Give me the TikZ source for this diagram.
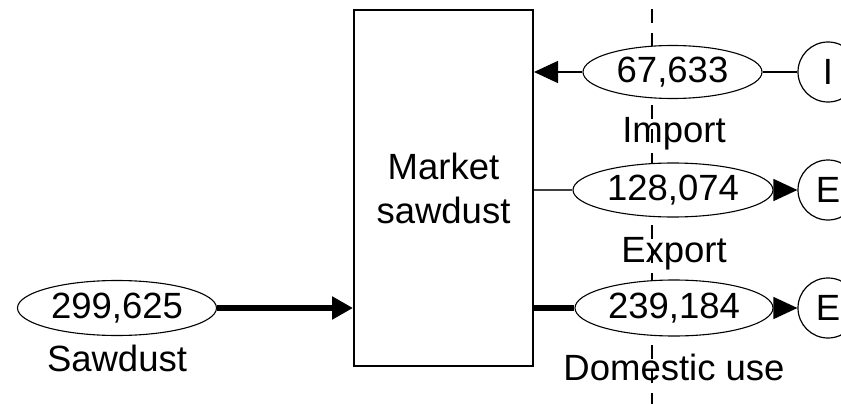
\documentclass[tikz,border=0pt]{standalone}
\usepackage{fontspec}
\setmainfont{Liberation Sans}
\usetikzlibrary{arrows.meta,shapes.geometric}
\begin{document}
\begin{tikzpicture}[x=1pt,y=-1pt,
  every node/.style={font=\fontsize{36.5}{44}\selectfont},
  flowval/.style={ellipse,draw,fill=white,line width=1.1pt,inner sep=0pt},
  endpt/.style={circle,draw,fill=white,line width=1.2pt,minimum size=60pt,inner sep=0pt},
  lbl/.style={anchor=base,inner sep=0pt},
  thinln/.style={line width=1.5pt},
  thickln/.style={line width=6pt},
  tip/.style={-{Triangle[length=24pt,width=22pt]}},
  bigtip/.style={-{Triangle[length=21pt,width=22pt]}}
]
\useasboundingbox (0,0) rectangle (841,404);
% market box
\node[draw,line width=2pt,minimum width=179pt,minimum height=356pt,align=center,inner sep=0pt] (mkt) at (443.5,188) {Market\\sawdust};
% labels (under the dashed border line)
\node[lbl] (limp) at (674,142) {Import};
\node[lbl] (lexp) at (674,262) {Export};
\node[lbl] (ldom) at (674,380) {Domestic use};
\node[lbl] (lsaw) at (117,371) {Sawdust};
% dashed system border
\coordinate (vtop) at (652,0);
\coordinate (vbot) at (652,404);
\draw[line width=1.2pt,dash pattern=on 14pt off 10pt,dash phase=15pt] (vtop) -- (vbot);
% flow values
\node[flowval,minimum width=179pt,minimum height=53pt] (vimp) at (672.5,72) {67,633};
\node[flowval,minimum width=200pt,minimum height=54pt] (vexp) at (673,190) {128,074};
\node[flowval,minimum width=198pt,minimum height=56pt] (vdom) at (674,308) {239,184};
\node[flowval,minimum width=199pt,minimum height=55pt] (vsaw) at (117,308) {299,625};
% end points
\node[endpt] (ci) at (828,72) {I};
\node[endpt] (ce1) at (828,190) {E};
\node[endpt] (ce2) at (828,308) {E};
% connectors
\draw[thinln,tip] (vimp.west) -- (vimp.west -| mkt.east);
\draw[thinln] (vimp.east) -- (ci.west);
\draw[line width=1.2pt,black!75] (mkt.east |- vexp.west) -- (vexp.west);
\draw[thinln,tip] (vexp.east) -- (ce1.west);
\draw[thickln] (mkt.east |- vdom.west) -- (vdom.west);
\draw[thinln,tip] (vdom.east) -- (ce2.west);
\draw[thickln,bigtip] (vsaw.east) -- (vsaw.east -| mkt.west);
\end{tikzpicture}
\end{document}
